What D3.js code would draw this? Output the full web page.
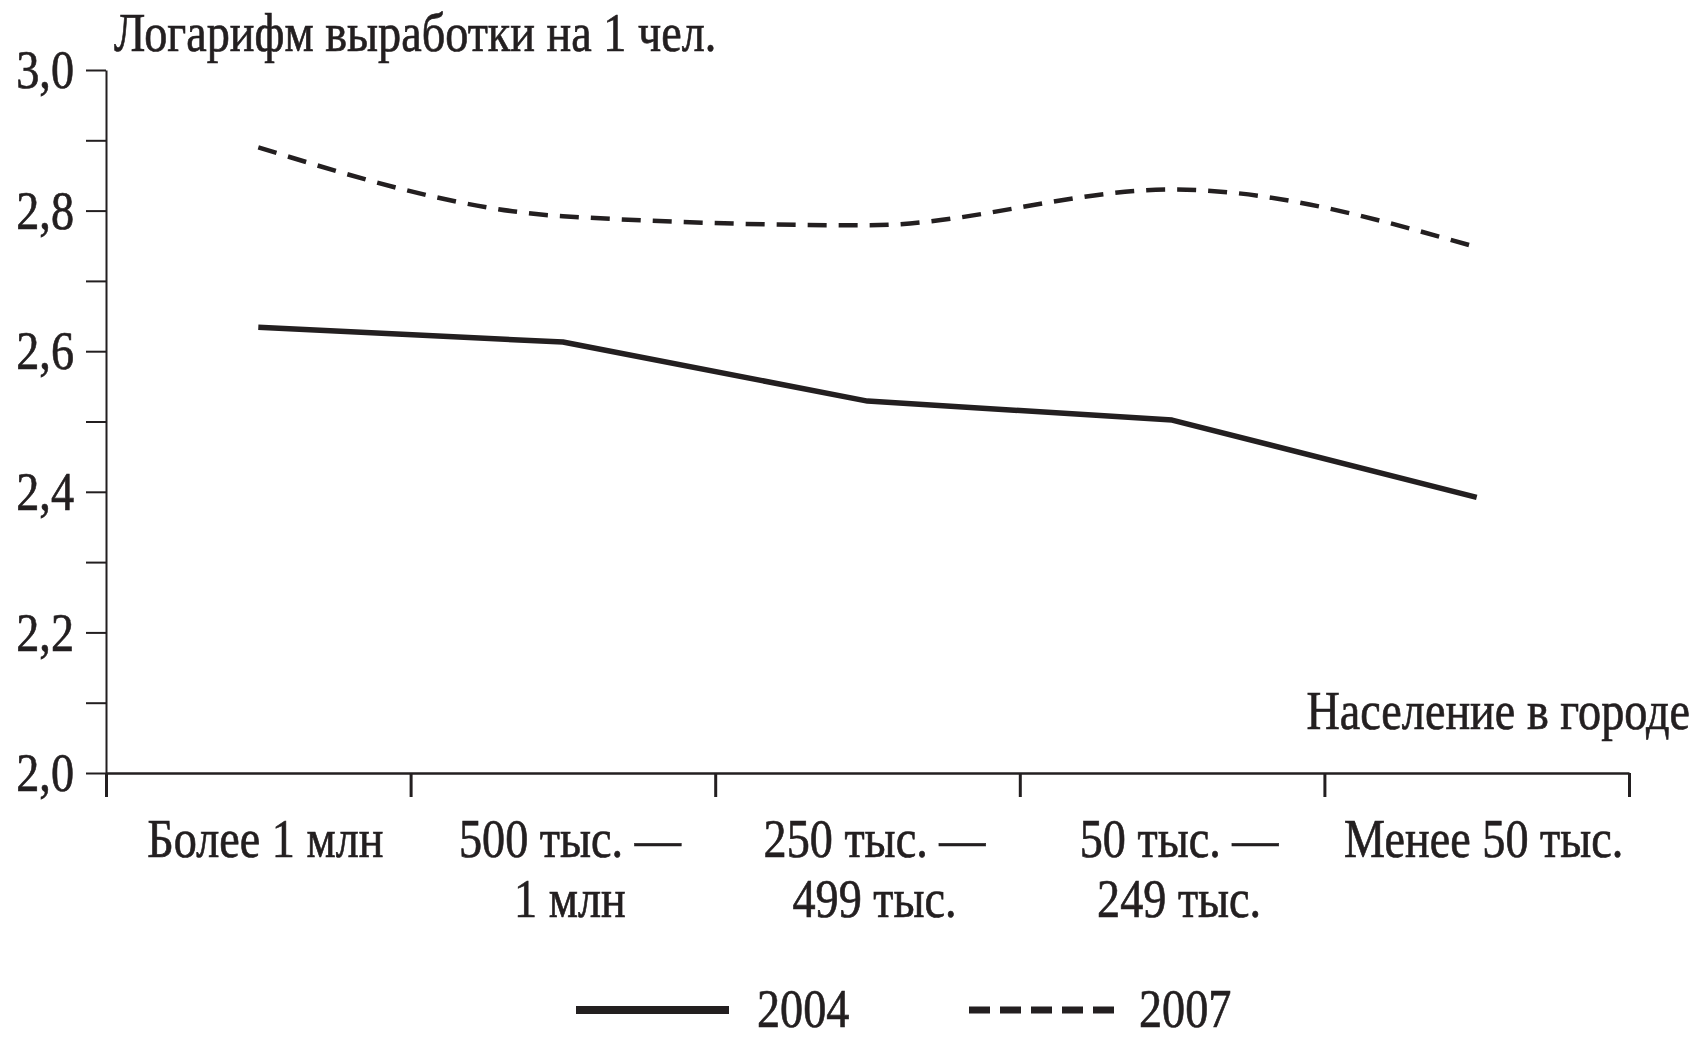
<!DOCTYPE html>
<html>
<head>
<meta charset="utf-8">
<script src="https://cdn.jsdelivr.net/npm/d3@7"></script>
<style>
  body { margin: 0; background: #fff; }
  svg text { font-family: "Liberation Serif", "Times New Roman", serif; fill: #231f20; stroke: #231f20; stroke-width: 0.7px; }
</style>
</head>
<body>
<svg width="1701" height="1041"></svg>
<script>
// данные
const categories = [
  ["Более 1 млн"],
  ["500 тыс. —", "1 млн"],
  ["250 тыс. —", "499 тыс."],
  ["50 тыс. —", "249 тыс."],
  ["Менее 50 тыс."]
];
const values2004 = [2.634, 2.613, 2.529, 2.502, 2.392];
const values2007 = [2.890, 2.792, 2.779, 2.830, 2.748];
const yTicks = [2.0, 2.1, 2.2, 2.3, 2.4, 2.5, 2.6, 2.7, 2.8, 2.9, 3.0];
const seriesNames = ["2004", "2007"];

const svg = d3.select("svg");
const W = 1701, H = 1041;
const margin = { top: 70, right: 72, bottom: 268, left: 106 };
const fs = 55, sx = 0.84; // узкий шрифт как в оригинале
const ink = "#231f20";

const x = d3.scaleBand()
  .domain(d3.range(categories.length))
  .range([margin.left, W - margin.right]);
const xEdges = d3.scaleLinear()
  .domain([0, categories.length])
  .range([margin.left, W - margin.right]);
const y = d3.scaleLinear()
  .domain([2.0, 3.0])
  .range([H - margin.bottom, margin.top]);

function label(x0, y0, str, anchor) {
  return svg.append("text")
    .attr("transform", `translate(${x0},${y0}) scale(${sx},1)`)
    .attr("text-anchor", anchor || "start")
    .style("font-size", fs + "px")
    .text(str);
}

// ось Y
const yAxis = svg.append("g")
  .attr("transform", `translate(${margin.left},0)`)
  .call(d3.axisLeft(y)
    .tickValues(yTicks)
    .tickSize(20)
    .tickSizeOuter(0)
    .tickPadding(12)
    .tickFormat(d => Math.round(d * 10) % 2 === 0 ? d.toFixed(1).replace(".", ",") : ""));
yAxis.select(".domain").attr("stroke", ink).attr("stroke-width", 2);
yAxis.selectAll(".tick line").attr("stroke", ink).attr("stroke-width", 2);
yAxis.selectAll(".tick text")
  .attr("x", -32 / sx)
  .attr("transform", `scale(${sx},1)`)
  .style("font-size", fs + "px")
  .style("font-family", "Liberation Serif")
  .attr("fill", ink);

// ось X
const xAxis = svg.append("g")
  .attr("transform", `translate(0,${H - margin.bottom})`)
  .call(d3.axisBottom(xEdges)
    .tickValues(d3.range(categories.length + 1))
    .tickSize(24)
    .tickSizeOuter(0)
    .tickFormat(""));
xAxis.select(".domain").attr("stroke", ink).attr("stroke-width", 2.5);
xAxis.selectAll(".tick line").attr("stroke", ink).attr("stroke-width", 3);

categories.forEach((lines, i) => {
  const cx = x(i) + x.bandwidth() / 2 + 7;
  lines.forEach((s, j) => {
    label(cx, H - margin.bottom + 84 + j * 60, s, "middle");
  });
});

// подписи осей
label(114, 51, "Логарифм выработки на 1 чел.");
label(1690, 729, "Население в городе", "end");

// линии
const line2004 = d3.line()
  .x((d, i) => x(i) + x.bandwidth() / 2)
  .y(d => y(d));
const line2007 = d3.line()
  .x((d, i) => x(i) + x.bandwidth() / 2)
  .y(d => y(d))
  .curve(d3.curveMonotoneX);

svg.append("path")
  .datum(values2004)
  .attr("d", line2004)
  .attr("fill", "none")
  .attr("stroke", ink)
  .attr("stroke-width", 5.5)
  .attr("stroke-linejoin", "round");

svg.append("path")
  .datum(values2007)
  .attr("d", line2007)
  .attr("fill", "none")
  .attr("stroke", ink)
  .attr("stroke-width", 4.5)
  .attr("stroke-dasharray", "19,12");

// легенда
const legY = 1010;
svg.append("line")
  .attr("x1", 576).attr("x2", 729)
  .attr("y1", legY).attr("y2", legY)
  .attr("stroke", ink).attr("stroke-width", 8);
label(757, 1027, seriesNames[0]);
svg.append("line")
  .attr("x1", 969).attr("x2", 1114)
  .attr("y1", legY).attr("y2", legY)
  .attr("stroke", ink).attr("stroke-width", 7)
  .attr("stroke-dasharray", "21,10");
label(1139, 1027, seriesNames[1]);
</script>
</body>
</html>
